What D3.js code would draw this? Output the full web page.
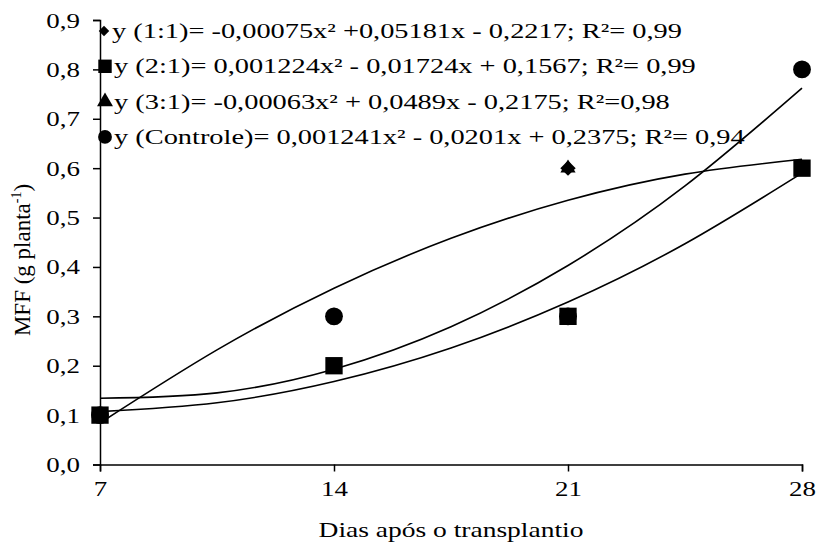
<!DOCTYPE html>
<html>
<head>
<meta charset="utf-8">
<script src="https://cdn.jsdelivr.net/npm/d3@7"></script>
<style>
  body { margin: 0; background: #fff; }
  svg text { font-family: "Liberation Serif", "Times New Roman", serif; fill: #000; }
</style>
</head>
<body>
<div id="chart"></div>
<script>
// observed points
const days = [7, 14, 21, 28];
const mff11 = [0.1, 0.3, 0.6, 0.6];       // diamond
const mff21 = [0.1, 0.2, 0.3, 0.6];       // square
const mff31 = [0.1, 0.3, 0.6, 0.6];       // triangle
const mffCtrl = [0.1, 0.3, 0.3, 0.8];     // circle

// trend lines, values
const trendX = [7, 10.5, 14, 17.5, 21, 24.5, 28];
const trendConcave = [0.084, 0.232, 0.357, 0.458, 0.535, 0.588, 0.618];
const trendSteep = [0.134, 0.145, 0.193, 0.279, 0.403, 0.564, 0.762];
const trendLower = [0.107, 0.125, 0.168, 0.236, 0.329, 0.447, 0.59];

const yTicks = [0, 0.1, 0.2, 0.3, 0.4, 0.5, 0.6, 0.7, 0.8, 0.9];
const legendLines = [
  "y (1:1)= -0,00075x² +0,05181x - 0,2217; R²= 0,99",
  "y (2:1)= 0,001224x² - 0,01724x + 0,1567; R²= 0,99",
  "y (3:1)= -0,00063x² + 0,0489x - 0,2175; R²=0,98",
  "y (Controle)= 0,001241x² - 0,0201x + 0,2375; R²= 0,94"
];
const legendSymbols = ["diamond", "square", "triangle", "circle"];

const width = 818, height = 552;
const margin = { top: 20, right: 16, bottom: 87.5, left: 100 };
const stretch = "scale(1.225,1)";        // the original lettering is wide
const legendStretch = "scale(1.29,1)";

const svg = d3.select("#chart").append("svg")
  .attr("width", width).attr("height", height);

const x = d3.scaleLinear().domain([7, 28]).range([margin.left, width - margin.right]);
const y = d3.scaleLinear().domain([0, 0.9]).range([height - margin.bottom, margin.top]);

// axes
const xAxis = svg.append("g")
  .attr("transform", `translate(0,${y(0)})`)
  .call(d3.axisBottom(x).tickValues(days).tickSize(7).tickPadding(9).tickFormat(d3.format("d")));
const yAxis = svg.append("g")
  .attr("transform", `translate(${x(7)},0)`)
  .call(d3.axisLeft(y).tickValues(yTicks).tickSize(7)
    .tickFormat(d => d3.format(".1f")(d).replace(".", ",")));

[xAxis, yAxis].forEach(g => {
  g.select(".domain").attr("stroke", "#000").attr("stroke-width", 1.5);
  g.selectAll(".tick line").attr("stroke", "#000").attr("stroke-width", 1.5);
  g.selectAll(".tick text").style("font-size", "22px").style("font-family", "Liberation Serif, serif");
});
xAxis.selectAll(".tick text").attr("transform", stretch);
yAxis.selectAll(".tick text").attr("x", 0).attr("transform", `translate(-20,0) ${stretch}`);

svg.append("text")
  .attr("transform", `translate(${(x(7) + x(28)) / 2},537) scale(1.25,1)`)
  .attr("text-anchor", "middle")
  .style("font-size", "22px")
  .text("Dias após o transplantio");

const yTitle = svg.append("text")
  .attr("transform", `translate(30,260) rotate(-90)`)
  .attr("text-anchor", "middle")
  .style("font-size", "23px");
yTitle.append("tspan").text("MFF  (g planta");
yTitle.append("tspan").attr("dy", -9).style("font-size", "14px").text("-1");
yTitle.append("tspan").attr("dy", 9).text(")");

// trend lines
const line = d3.line().x(d => x(d[0])).y(d => y(d[1])).curve(d3.curveNatural);
[trendConcave, trendSteep, trendLower].forEach(vals => {
  svg.append("path")
    .datum(trendX.map((v, i) => [v, vals[i]]))
    .attr("d", line)
    .attr("fill", "none")
    .attr("stroke", "#000")
    .attr("stroke-width", 1.6);
});

// markers
const symbolType = {
  diamond: d3.symbolDiamond2,
  square: d3.symbolSquare,
  triangle: d3.symbolTriangle,
  circle: d3.symbolCircle
};
const symbolSize = { diamond: 150, square: 300, triangle: 100, circle: 250 };

function drawMarks(values, kind) {
  svg.append("g").selectAll("path")
    .data(values)
    .join("path")
    .attr("transform", (d, i) => `translate(${x(days[i])},${y(d)})`)
    .attr("d", d3.symbol().type(symbolType[kind]).size(symbolSize[kind]))
    .attr("fill", "#000");
}
drawMarks(mff11, "diamond");
drawMarks(mff31, "triangle");
drawMarks(mffCtrl, "circle");
drawMarks(mff21, "square");

// legend
const legend = svg.append("g").attr("transform", "translate(104,31)");
legendLines.forEach((txt, i) => {
  const row = legend.append("g").attr("transform", `translate(0,${i * 35.3})`);
  const kind = legendSymbols[i];
  const legSize = { diamond: 70, square: 180, triangle: 110, circle: 150 }[kind];
  row.append("path")
    .attr("transform", `translate(${kind === "diamond" ? 0 : 1},0)`)
    .attr("d", d3.symbol().type(symbolType[kind]).size(legSize))
    .attr("fill", "#000");
  row.append("text")
    .attr("transform", `translate(${kind === "diamond" ? 8 : 10},7) ${legendStretch}`)
    .style("font-size", "22px")
    .text(txt);
});
</script>
</body>
</html>
